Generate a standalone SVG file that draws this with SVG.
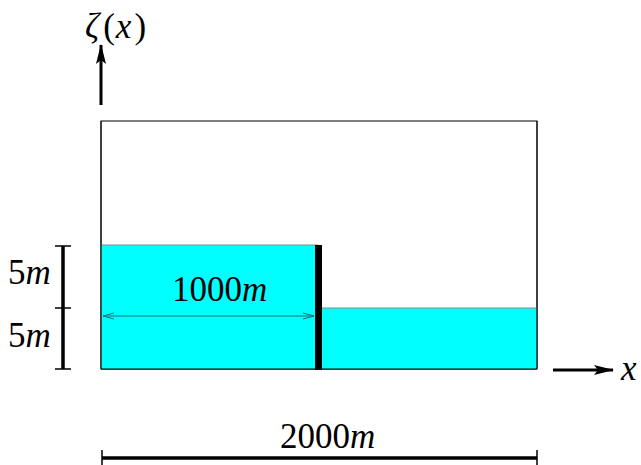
<svg xmlns="http://www.w3.org/2000/svg" width="641" height="465" viewBox="0 0 641 465">
<style>
text{font-family:"Liberation Serif","DejaVu Serif",serif;font-size:35px;fill:#000}
.i{font-style:italic}
.water{fill:#00ffff;stroke:none}
.bar{stroke:#000;stroke-width:3.5;fill:none}
.tick{stroke:#000;stroke-width:1.5}
</style>
<defs>
<marker id="ah" markerWidth="20" markerHeight="10" refX="19" refY="5" orient="auto" markerUnits="userSpaceOnUse">
<path d="M0,0 L20,5 L0,10 L4,5 Z" fill="#000"/>
</marker>
<marker id="oa" markerWidth="12" markerHeight="8" refX="11" refY="4" orient="auto-start-reverse" markerUnits="userSpaceOnUse">
<path d="M0,1 L11,4 L0,7" fill="none" stroke="#1f6f6f" stroke-width="1"/>
</marker>
</defs>
<g id="domain">
<rect x="101" y="121" width="436" height="248" fill="#fff" stroke="#000" stroke-width="1"/>
<rect class="water" x="101.5" y="245" width="216" height="124"/>
<rect class="water" x="318" y="308" width="218.5" height="61"/>
<line x1="101" y1="245" x2="318" y2="245" stroke="#888" stroke-width="1"/>
<line x1="318" y1="308" x2="537" y2="308" stroke="#888" stroke-width="1"/>
<line x1="101" y1="369" x2="537" y2="369" stroke="#000" stroke-width="1"/>
<line x1="101" y1="121" x2="101" y2="369" stroke="#000" stroke-width="1"/>
<line x1="537" y1="121" x2="537" y2="369" stroke="#000" stroke-width="1"/>
</g>
<g id="wall">
<rect x="315" y="245" width="7" height="125" fill="#000"/>
</g>
<g id="connectors">
<line x1="101" y1="105" x2="101" y2="45" stroke="#000" stroke-width="3" marker-end="url(#ah)"/>
<line x1="553" y1="370" x2="613" y2="370" stroke="#000" stroke-width="3" marker-end="url(#ah)"/>
<line x1="103" y1="316" x2="314" y2="316" stroke="#1f6f6f" stroke-width="1" marker-start="url(#oa)" marker-end="url(#oa)"/>
<line class="bar" x1="63" y1="246" x2="63" y2="369"/>
<line class="tick" x1="55" y1="246" x2="71" y2="246"/>
<line class="tick" x1="55" y1="308" x2="71" y2="308"/>
<line class="tick" x1="55" y1="369" x2="71" y2="369"/>
<line class="bar" x1="102" y1="458" x2="537" y2="458"/>
<line class="tick" x1="102" y1="450" x2="102" y2="465"/>
<line class="tick" x1="537" y1="450" x2="537" y2="465"/>
</g>
<g id="labels">
<text x="85" y="38"><tspan class="i">ζ</tspan><tspan dx="4">(</tspan><tspan class="i" dx="1">x</tspan><tspan dx="3">)</tspan></text>
<text x="621" y="380" class="i">x</text>
<text x="8" y="284">5<tspan class="i">m</tspan></text>
<text x="8" y="347">5<tspan class="i">m</tspan></text>
<text x="172" y="301">1000<tspan class="i">m</tspan></text>
<text x="280" y="448">2000<tspan class="i">m</tspan></text>
</g>
</svg>
